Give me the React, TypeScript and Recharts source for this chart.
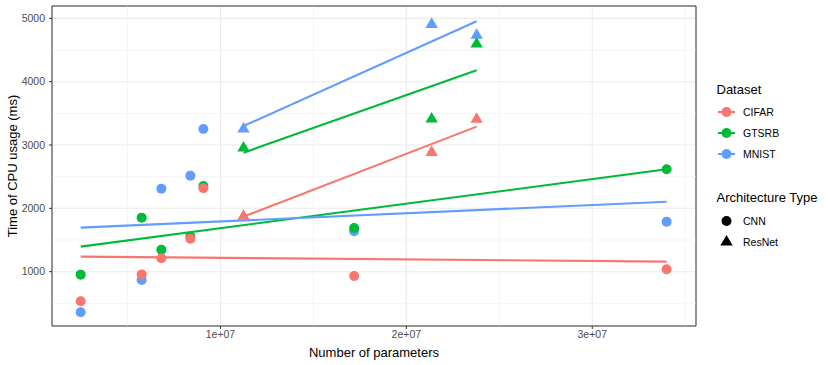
import React from 'react'
import { ScatterChart, Scatter, XAxis, YAxis, CartesianGrid, ReferenceLine, ReferenceArea } from 'recharts'

// number of parameters per model
const cnnParams = [2480000, 5760000, 6820000, 8380000, 9080000, 17190000, 34000000]
const resnetParams = [11240000, 21360000, 23780000]

// CPU time (ms) per dataset
const cifarCnn = [532, 957, 1211, 1521, 2317, 932, 1037]
const gtsrbCnn = [953, 1853, 1347, 1555, 2353, 1690, 2617]
const mnistCnn = [359, 869, 2311, 2516, 3253, 1638, 1790]
const cifarResnet = [1875, 2885, 3408]
const gtsrbResnet = [2953, 3412, 4595]
const mnistResnet = [3253, 4905, 4733]

// fitted lines (lm), read at the ends of each group
const cnnLineX = [2480000, 34000000]
const resnetLineX = [11240000, 23780000]
const cifarCnnFit = [1237, 1158]
const gtsrbCnnFit = [1395, 2617]
const mnistCnnFit = [1695, 2105]
const cifarResnetFit = [1870, 3290]
const gtsrbResnetFit = [2879, 4180]
const mnistResnetFit = [3300, 4954]

const xTicks = [10000000, 20000000, 30000000]
const xMinor = [5000000, 15000000, 25000000, 35000000]
const yTicks = [1000, 2000, 3000, 4000, 5000]
const yMinor = [500, 1500, 2500, 3500, 4500]
const xDomain = [937000, 35580000]
const yDomain = [142, 5195]

const datasets = ['CIFAR', 'GTSRB', 'MNIST']
const colors: Record<string, string> = { CIFAR: '#F8766D', GTSRB: '#00BA38', MNIST: '#619CFF' }

const FONT = '"Liberation Sans", Arial, Helvetica, sans-serif'

const toPoints = (xs: number[], ys: number[]) => xs.map((x, i) => ({ x, y: ys[i] }))

const circleShape = (color: string) => (props: any) => (
  <circle cx={props.cx} cy={props.cy} r={5} fill={color} />
)

const triangleShape = (color: string) => (props: any) => {
  const { cx, cy } = props
  const pts = `${cx},${cy - 7} ${cx + 6.2},${cy + 3.6} ${cx - 6.2},${cy + 3.6}`
  return <polygon points={pts} fill={color} />
}

const fmtX = (v: number) => (v / 1e7).toFixed(0) + 'e+07'

function LegendBox() {
  const rows = datasets.map((d, i) => ({ d, y: 112 + i * 21 }))
  return (
    <svg width={130} height={260} style={{ position: 'absolute', left: 700, top: 0 }} fontFamily={FONT}>
      <text x={16.5} y={94} fontSize={13} fill="#000">Dataset</text>
      {rows.map(r => (
        <g key={r.d}>
          <line x1={18} x2={35} y1={r.y} y2={r.y} stroke={colors[r.d]} strokeWidth={2} />
          <circle cx={26.5} cy={r.y} r={5} fill={colors[r.d]} />
          <text x={43} y={r.y + 4} fontSize={10.5} fill="#000">{r.d}</text>
        </g>
      ))}
      <text x={16.5} y={201.5} fontSize={13} fill="#000">Architecture Type</text>
      <circle cx={26.5} cy={221} r={5} fill="#000" />
      <text x={43} y={225} fontSize={10.5} fill="#000">CNN</text>
      <polygon points="26.5,235 32.7,245.6 20.3,245.6" fill="#000" />
      <text x={43} y={246} fontSize={10.5} fill="#000">ResNet</text>
    </svg>
  )
}

export default function App() {
  const cnn: Record<string, number[]> = { CIFAR: cifarCnn, GTSRB: gtsrbCnn, MNIST: mnistCnn }
  const resnet: Record<string, number[]> = { CIFAR: cifarResnet, GTSRB: gtsrbResnet, MNIST: mnistResnet }
  const cnnFit: Record<string, number[]> = { CIFAR: cifarCnnFit, GTSRB: gtsrbCnnFit, MNIST: mnistCnnFit }
  const resnetFit: Record<string, number[]> = { CIFAR: cifarResnetFit, GTSRB: gtsrbResnetFit, MNIST: mnistResnetFit }
  const drawOrder = ['MNIST', 'GTSRB', 'CIFAR']

  return (
    <div style={{ position: 'absolute', left: 0, top: 0, width: 830, height: 365, background: '#fff', fontFamily: FONT }}>
      <ScatterChart width={830} height={365} margin={{ top: 6, right: 134, bottom: 0, left: 0 }}>
        <CartesianGrid stroke="#EBEBEB" strokeWidth={1.07} />
        {xMinor.map(v => (
          <ReferenceLine key={'xm' + v} x={v} stroke="#EBEBEB" strokeWidth={0.55} />
        ))}
        {yMinor.map(v => (
          <ReferenceLine key={'ym' + v} y={v} stroke="#EBEBEB" strokeWidth={0.55} />
        ))}
        <XAxis
          type="number"
          dataKey="x"
          domain={xDomain}
          ticks={xTicks}
          tickFormatter={fmtX}
          allowDataOverflow
          height={39}
          axisLine={false}
          tickSize={3}
          tickMargin={2}
          tickLine={{ stroke: '#333333' }}
          tick={{ fill: '#4D4D4D', fontSize: 10.5, fontFamily: FONT }}
          label={{ value: 'Number of parameters', position: 'insideBottom', offset: 8, fill: '#000', fontSize: 13, fontFamily: FONT }}
        />
        <YAxis
          type="number"
          dataKey="y"
          domain={yDomain}
          ticks={yTicks}
          allowDataOverflow
          width={52}
          axisLine={false}
          tickSize={3}
          tickMargin={4}
          tickLine={{ stroke: '#333333' }}
          tick={{ fill: '#4D4D4D', fontSize: 10.5, fontFamily: FONT }}
          label={{ value: 'Time of CPU usage (ms)', angle: -90, position: 'insideLeft', offset: 12, fill: '#000', fontSize: 13, fontFamily: FONT, style: { textAnchor: 'middle' } }}
        />
        {datasets.map(d => (
          <Scatter
            key={'lc' + d}
            data={toPoints(cnnLineX, cnnFit[d])}
            line={{ stroke: colors[d], strokeWidth: 2.1 }}
            shape={() => <g />}
            isAnimationActive={false}
          />
        ))}
        {datasets.map(d => (
          <Scatter
            key={'lr' + d}
            data={toPoints(resnetLineX, resnetFit[d])}
            line={{ stroke: colors[d], strokeWidth: 2.1 }}
            shape={() => <g />}
            isAnimationActive={false}
          />
        ))}
        {drawOrder.map(d => (
          <Scatter
            key={'pc' + d}
            data={toPoints(cnnParams, cnn[d])}
            shape={circleShape(colors[d])}
            isAnimationActive={false}
          />
        ))}
        {drawOrder.map(d => (
          <Scatter
            key={'pr' + d}
            data={toPoints(resnetParams, resnet[d])}
            shape={triangleShape(colors[d])}
            isAnimationActive={false}
          />
        ))}
        <ReferenceArea
          x1={xDomain[0]}
          x2={xDomain[1]}
          y1={yDomain[0]}
          y2={yDomain[1]}
          fill="none"
          fillOpacity={0}
          stroke="#333333"
          strokeWidth={1}
        />
      </ScatterChart>
      <LegendBox />
    </div>
  )
}
